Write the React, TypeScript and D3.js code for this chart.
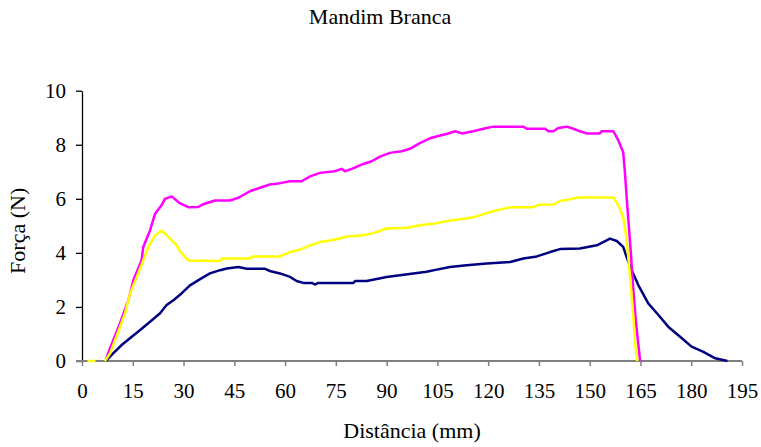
import React, { useEffect, useRef } from 'react';
import * as d3 from 'd3';

type Pt = [number, number];

// [distância (mm), força (N)]
const serieAzul: Pt[] = [
    [7.0, 0], [9.2, 0.28], [11.7, 0.59], [14.7, 0.9], [17.1, 1.14], [20.1, 1.45], [23.0, 1.76],
    [25.0, 2.07], [27.0, 2.25], [29.4, 2.5], [31.9, 2.8], [34.9, 3.03], [37.8, 3.24], [40.8, 3.36],
    [42.8, 3.42], [46.2, 3.48], [48.7, 3.41], [54.1, 3.41], [55.5, 3.33], [58.5, 3.24], [61.5, 3.11],
    [63.4, 2.96], [65.4, 2.89], [67.9, 2.89], [68.8, 2.83], [69.8, 2.89], [80.2, 2.89], [80.7, 2.96],
    [84.1, 2.96], [90.0, 3.11], [93.9, 3.17], [97.9, 3.24], [101.8, 3.3], [104.8, 3.38], [108.7, 3.48],
    [113.6, 3.54], [119.6, 3.61], [126.5, 3.66], [130.4, 3.79], [134.4, 3.87], [138.3, 4.03],
    [141.2, 4.14], [147.1, 4.16], [152.1, 4.28], [154.0, 4.4], [156.0, 4.53], [158.0, 4.44],
    [159.9, 4.22], [160.9, 3.85], [162.4, 3.36], [164.4, 2.8], [167.3, 2.13], [170.3, 1.7],
    [173.2, 1.27], [176.7, 0.9], [180.1, 0.53], [183.6, 0.34], [187.1, 0.1], [190.7, 0],
];

const serieRosa: Pt[] = [
    [7.0, 0.04], [8.3, 0.47], [11.2, 1.39], [13.7, 2.25], [15.2, 3.0], [17.6, 3.73], [18.1, 4.22],
    [20.1, 4.83], [21.6, 5.45], [23.5, 5.76], [24.5, 6.0], [26.5, 6.09], [29.0, 5.83], [31.4, 5.69],
    [34.4, 5.7], [35.8, 5.8], [39.3, 5.94], [43.7, 5.94], [46.2, 6.04], [49.6, 6.28], [52.6, 6.41],
    [55.5, 6.53], [58.5, 6.58], [61.5, 6.65], [64.9, 6.65], [67.4, 6.83], [70.3, 6.96], [74.7, 7.02],
    [76.7, 7.11], [77.7, 7.02], [79.7, 7.11], [83.1, 7.29], [85.6, 7.39], [88.0, 7.56], [91.0, 7.7],
    [94.4, 7.76], [96.9, 7.85], [99.8, 8.06], [102.8, 8.24], [105.8, 8.34], [107.7, 8.4], [110.2, 8.5],
    [112.2, 8.42], [115.6, 8.5], [118.6, 8.59], [121.5, 8.67], [130.4, 8.67], [131.4, 8.59],
    [136.8, 8.59], [137.8, 8.5], [139.3, 8.5], [140.7, 8.62], [143.2, 8.67], [145.2, 8.59],
    [147.1, 8.5], [149.1, 8.42], [153.0, 8.42], [153.5, 8.5], [157.0, 8.5], [158.5, 8.15],
    [159.9, 7.72], [160.4, 6.99], [161.2, 5.57], [162.1, 4.1], [162.9, 2.62], [163.7, 1.39], [164.9, 0],
];

const serieAmarela: Pt[] = [
    [1.6, 0], [4.0, 0], [NaN, NaN],
    [6.8, 0], [8.3, 0.28], [10.7, 1.08], [12.7, 1.76], [14.2, 2.5], [16.2, 3.11], [18.1, 3.73],
    [19.6, 4.22], [21.6, 4.65], [23.5, 4.83], [26.0, 4.53], [28.0, 4.28], [29.0, 4.05], [31.4, 3.72],
    [40.8, 3.7], [41.3, 3.79], [49.6, 3.79], [50.6, 3.87], [58.5, 3.87], [61.5, 4.03], [64.4, 4.12],
    [67.4, 4.28], [70.3, 4.4], [73.3, 4.46], [76.2, 4.53], [78.2, 4.61], [83.1, 4.65], [86.1, 4.73],
    [90.0, 4.9], [95.9, 4.93], [99.9, 5.02], [104.8, 5.1], [108.7, 5.2], [113.6, 5.27], [116.6, 5.35],
    [120.5, 5.51], [123.5, 5.6], [126.5, 5.69], [133.3, 5.69], [135.0, 5.78], [139.3, 5.79],
    [141.2, 5.92], [144.2, 5.98], [146.6, 6.05], [157.0, 6.05], [158.5, 5.76], [159.9, 5.32],
    [160.7, 4.71], [161.4, 3.85], [162.1, 2.87], [162.9, 1.63], [163.4, 0.65], [164.1, 0],
];

const xTicks = d3.range(0, 196, 15);
const yTicks = d3.range(0, 11, 2);

const App: React.FC = () => {
    const svgRef = useRef<SVGSVGElement>(null);

    useEffect(() => {
        if (!svgRef.current) return;
        const svg = d3.select(svgRef.current);
        svg.selectAll('*').remove();

        const left = 82, right = 742, top = 90.7, bottom = 361;
        const font = "'Liberation Serif', 'Times New Roman', Times, serif";

        const x = d3.scaleLinear().domain([0, 195]).range([left, right]);
        const y = d3.scaleLinear().domain([0, 10]).range([bottom, top]);

        // y axis (black)
        const yAxis = svg.append('g')
            .attr('transform', `translate(${left},0)`)
            .call(d3.axisLeft(y).tickValues(yTicks).tickSize(6).tickSizeOuter(0).tickPadding(10));
        yAxis.attr('font-family', null).attr('font-size', null);
        yAxis.select('.domain').attr('stroke', '#000').attr('stroke-width', 1.3);
        yAxis.selectAll('.tick line').attr('stroke', '#000').attr('stroke-width', 1.3);
        yAxis.selectAll('.tick text')
            .style('font-family', font).style('font-size', '21px').attr('fill', '#000');

        // x axis (gray)
        const xAxis = svg.append('g')
            .attr('transform', `translate(0,${bottom})`)
            .call(d3.axisBottom(x).tickValues(xTicks).tickSize(5).tickSizeOuter(0).tickPadding(17));
        xAxis.attr('font-family', null).attr('font-size', null);
        xAxis.select('.domain').remove();
        xAxis.append('line')
            .attr('x1', left - 6).attr('x2', right)
            .attr('stroke', '#808080').attr('stroke-width', 2);
        xAxis.selectAll('.tick line').attr('stroke', '#808080').attr('stroke-width', 1.5);
        xAxis.selectAll('.tick text')
            .style('font-family', font).style('font-size', '21px').attr('fill', '#000');

        const line = d3.line<Pt>()
            .defined(d => !isNaN(d[0]))
            .x(d => x(d[0]))
            .y(d => y(d[1]));

        const series: [Pt[], string][] = [
            [serieAzul, '#000080'],
            [serieRosa, '#FF00FF'],
            [serieAmarela, '#FFFF00'],
        ];
        series.forEach(([data, color]) => {
            svg.append('path')
                .datum(data)
                .attr('d', line)
                .attr('fill', 'none')
                .attr('stroke', color)
                .attr('stroke-width', 2.5)
                .attr('stroke-linejoin', 'round');
        });

        // titles
        const label = (tx: string, t: string) =>
            svg.append('text')
                .attr('transform', tx)
                .attr('text-anchor', 'middle')
                .style('font-family', font).style('font-size', '22px')
                .attr('fill', '#000')
                .text(t);

        label('translate(380,24)', 'Mandim Branca');
        label(`translate(${(left + right) / 2},438)`, 'Distância (mm)');
        label(`translate(25,${(top + bottom) / 2 + 5}) rotate(-90)`, 'Força (N)');
    }, []);

    return (
        <div style={{ position: 'absolute', left: 0, top: 0, background: '#fff' }}>
            <svg ref={svgRef} width={761} height={447} />
        </div>
    );
};

export default App;
